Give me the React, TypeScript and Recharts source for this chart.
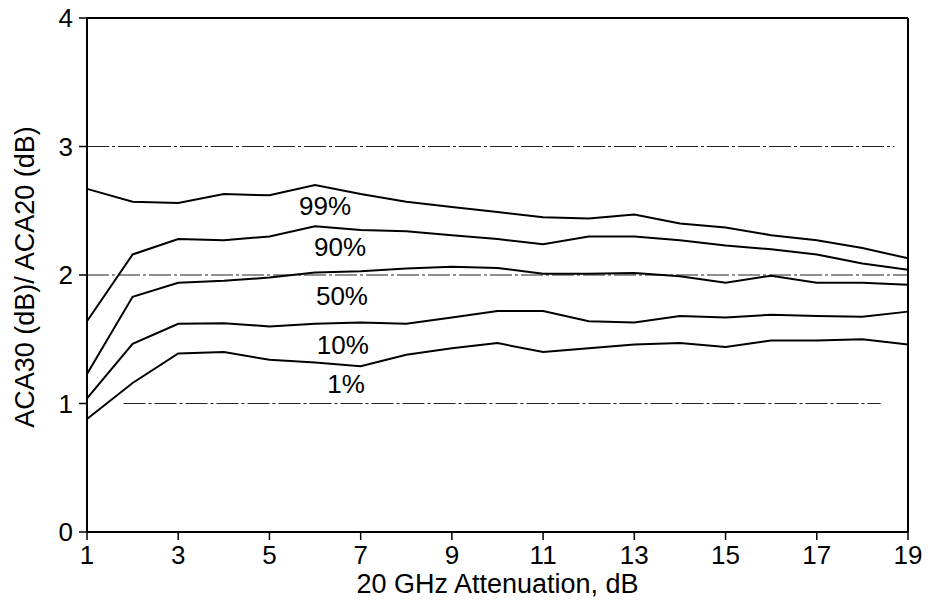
import React from "react";
import {
  LineChart,
  Line,
  XAxis,
  YAxis,
  ReferenceLine,
  ReferenceDot,
  Label,
} from "recharts";

const attenuation = [1, 2, 3, 4, 5, 6, 7, 8, 9, 10, 11, 12, 13, 14, 15, 16, 17, 18, 19];

const p99 = [2.67, 2.57, 2.56, 2.63, 2.62, 2.7, 2.63, 2.57, 2.53, 2.49, 2.45, 2.44, 2.47, 2.4, 2.37, 2.31, 2.27, 2.21, 2.13];
const p90 = [1.64, 2.16, 2.28, 2.27, 2.3, 2.38, 2.35, 2.34, 2.31, 2.28, 2.24, 2.3, 2.3, 2.27, 2.23, 2.2, 2.16, 2.09, 2.04];
const p50 = [1.23, 1.83, 1.94, 1.955, 1.98, 2.02, 2.03, 2.05, 2.065, 2.055, 2.01, 2.01, 2.015, 1.99, 1.94, 1.995, 1.94, 1.94, 1.925];
const p10 = [1.04, 1.465, 1.62, 1.625, 1.6, 1.62, 1.63, 1.62, 1.67, 1.72, 1.72, 1.64, 1.63, 1.68, 1.67, 1.69, 1.68, 1.675, 1.715];
const p1 = [0.88, 1.16, 1.39, 1.4, 1.34, 1.32, 1.29, 1.38, 1.43, 1.47, 1.4, 1.43, 1.46, 1.47, 1.44, 1.49, 1.49, 1.5, 1.46];

const xTicks = [1, 3, 5, 7, 9, 11, 13, 15, 17, 19];
const yTicks = [0, 1, 2, 3, 4];

const curveLabels = [
  { text: "99%", x: 6.22, y: 2.535 },
  { text: "90%", x: 6.55, y: 2.22 },
  { text: "50%", x: 6.59, y: 1.835 },
  { text: "10%", x: 6.61, y: 1.457 },
  { text: "1%", x: 6.68, y: 1.155 },
];

const series = ["p99", "p90", "p50", "p10", "p1"];

const data = attenuation.map((a, i) => ({
  a,
  p99: p99[i],
  p90: p90[i],
  p50: p50[i],
  p10: p10[i],
  p1: p1[i],
}));

const font = "'Liberation Sans', Arial, Helvetica, sans-serif";
const gridDash = "22 3 3 3";

export default function App() {
  return (
    <div style={{ position: "absolute", left: 0, top: 0, background: "#fff" }}>
      <LineChart
        width={932}
        height={600}
        data={data}
        margin={{ top: 18, right: 24, bottom: 0, left: 0 }}
      >
        <XAxis
          dataKey="a"
          type="number"
          domain={[1, 19]}
          ticks={xTicks}
          interval={0}
          height={68}
          tickSize={8}
          tickMargin={6}
          axisLine={{ stroke: "#000", strokeWidth: 2 }}
          tickLine={{ stroke: "#000", strokeWidth: 1.5 }}
          tick={{ fill: "#000", fontSize: 26, fontFamily: font }}
        >
          <Label
            content={({ viewBox }: any) => (
              <text
                x={viewBox.x + viewBox.width / 2}
                y={584}
                textAnchor="middle"
                dominantBaseline="central"
                fill="#000"
                fontSize={27}
                fontFamily={font}
              >
                20 GHz Attenuation, dB
              </text>
            )}
          />
        </XAxis>
        <YAxis
          type="number"
          domain={[0, 4]}
          ticks={yTicks}
          interval={0}
          width={87}
          tickSize={8}
          tickMargin={6}
          axisLine={{ stroke: "#000", strokeWidth: 2 }}
          tickLine={{ stroke: "#000", strokeWidth: 1.5 }}
          tick={{ fill: "#000", fontSize: 26, fontFamily: font }}
        >
          <Label
            content={({ viewBox }: any) => {
              const cy = viewBox.y + viewBox.height / 2 + 2;
              return (
                <text
                  x={25}
                  y={cy}
                  transform={`rotate(-90, 25, ${cy})`}
                  textAnchor="middle"
                  dominantBaseline="central"
                  fill="#000"
                  fontSize={27}
                  fontFamily={font}
                >
                  ACA30 (dB)/ ACA20 (dB)
                </text>
              );
            }}
          />
        </YAxis>

        <ReferenceLine
          segment={[{ x: 1.8, y: 1 }, { x: 18.4, y: 1 }]}
          stroke="#222"
          strokeWidth={1}
          strokeDasharray={gridDash}
        />
        <ReferenceLine y={2} stroke="#222" strokeWidth={1} strokeDasharray={gridDash} />
        <ReferenceLine
          segment={[{ x: 1, y: 3 }, { x: 18.7, y: 3 }]}
          stroke="#222"
          strokeWidth={1}
          strokeDasharray={gridDash}
        />
        <ReferenceLine y={4} stroke="#000" strokeWidth={2} />
        <ReferenceLine x={19} stroke="#000" strokeWidth={2} />

        {series.map((key) => (
          <Line
            key={key}
            dataKey={key}
            type="linear"
            stroke="#000"
            strokeWidth={2}
            dot={false}
            isAnimationActive={false}
          />
        ))}

        {curveLabels.map((c) => (
          <ReferenceDot
            key={c.text}
            x={c.x}
            y={c.y}
            r={0}
            fill="none"
            stroke="none"
            label={{
              value: c.text,
              position: "center",
              fill: "#000",
              fontSize: 26,
              fontFamily: font,
            }}
          />
        ))}
      </LineChart>
    </div>
  );
}
